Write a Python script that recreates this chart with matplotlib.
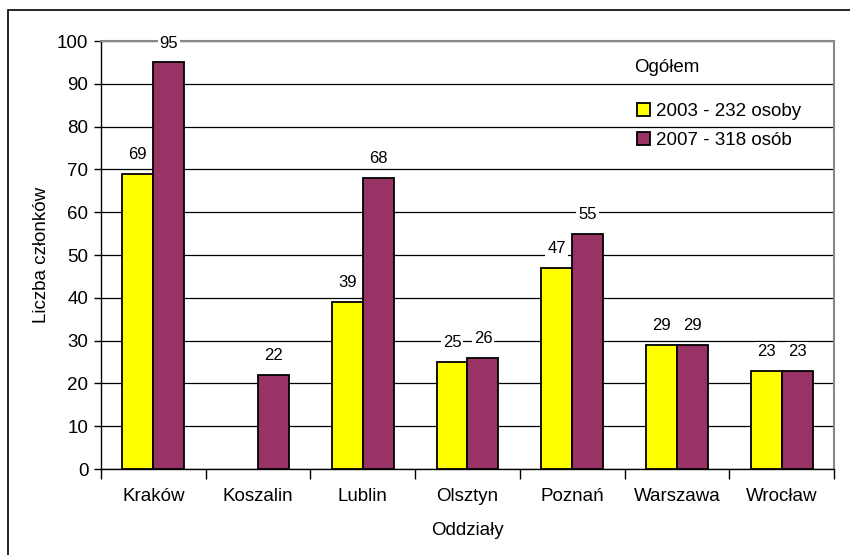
import numpy as np
import matplotlib
matplotlib.use("Agg")
import matplotlib.pyplot as plt
from matplotlib.patches import Rectangle

plt.rcParams['font.family'] = ['Liberation Sans', 'DejaVu Sans']

oddzialy = ['Kraków', 'Koszalin', 'Lublin', 'Olsztyn', 'Poznań', 'Warszawa', 'Wrocław']
r2003 = [69, 0, 39, 25, 47, 29, 23]
r2007 = [95, 22, 68, 26, 55, 29, 23]
lab2003 = '2003 - 232 osoby'
lab2007 = '2007 - 318 osób'

fig = plt.figure(figsize=(8.5, 5.55), dpi=100)
ax = fig.add_axes([101/850, 1-469/555, (834-101)/850, (469-41)/555])

# ramka wykresu (lewa i górna krawędź widoczne)
fig.add_artist(Rectangle((8/850, -0.5), 2, 1.5 - 10/555, transform=fig.transFigure,
                         fill=False, edgecolor='black', lw=1.2, clip_on=False))

x = np.arange(len(oddzialy))
w = 0.296
b1 = ax.bar(x - w/2, r2003, w, color='#FFFF00', edgecolor='black', lw=1.3, label=lab2003, zorder=3)
b2 = ax.bar(x + w/2, r2007, w, color='#993366', edgecolor='black', lw=1.3, label=lab2007, zorder=3)
for rects, vals in ((b1, r2003), (b2, r2007)):
    for r, v in zip(rects, vals):
        if v == 0:
            r.set_visible(False)
            continue
        ax.text(r.get_x() + r.get_width()/2, v + 4.5, str(v), ha='center', va='center',
                fontsize=12, zorder=4,
                bbox=dict(facecolor='white', edgecolor='none', pad=1.5))

ax.set_xlim(-0.5, len(oddzialy) - 0.5)
ax.set_ylim(0, 100)
ax.set_yticks(np.arange(0, 101, 10))
ax.yaxis.grid(True, color='black', lw=0.9, zorder=0)
ax.set_axisbelow(True)
ax.tick_params(axis='y', labelsize=13.5, length=5, width=1, direction='out', pad=4)
ax.set_xticks(x)
ax.set_xticklabels(oddzialy)
ax.set_xticks(np.arange(-0.5, len(oddzialy)), minor=True)
ax.tick_params(axis='x', which='major', length=0, labelsize=13.5, pad=14)
ax.tick_params(axis='x', which='minor', length=7, width=1, direction='out')

for s in ('top', 'right'):
    ax.spines[s].set_color('#888888')
    ax.spines[s].set_linewidth(1.5)
for s in ('left', 'bottom'):
    ax.spines[s].set_color('black')
    ax.spines[s].set_linewidth(1)

ax.set_ylabel('Liczba członków', fontsize=13.5, labelpad=5)
ax.set_xlabel('Oddziały', fontsize=13.5, labelpad=12)

fig.text(634/850, 1-68/555, 'Ogółem', fontsize=13.5, va='center', ha='left')
ax.legend(loc='upper left', bbox_to_anchor=(637/850, 1-103/555), bbox_transform=fig.transFigure,
          frameon=False, fontsize=13.5, handlelength=0.7, handleheight=0.7,
          handletextpad=0.3, labelspacing=0.65, borderpad=0, borderaxespad=0)

fig.savefig('out.png', dpi=100)
